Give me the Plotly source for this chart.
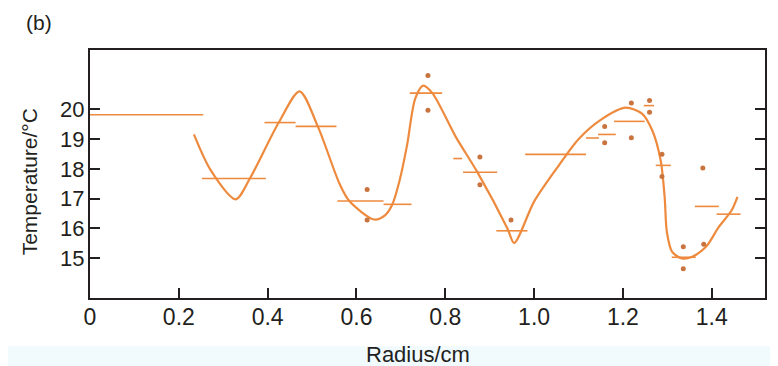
import plotly.graph_objects as go

# Step segments (mean temperature over radial intervals)
seg_start = [0.0, 0.252, 0.393, 0.463, 0.557, 0.661, 0.72, 0.818, 0.84, 0.915, 0.98,
             1.117, 1.144, 1.18, 1.247, 1.274, 1.31, 1.362, 1.411]
seg_end = [0.255, 0.396, 0.463, 0.555, 0.661, 0.724, 0.793, 0.838, 0.917, 0.985, 1.117,
           1.146, 1.184, 1.249, 1.27, 1.308, 1.364, 1.416, 1.465]
seg_temp = [19.82, 17.68, 19.56, 19.43, 16.92, 16.81, 20.55, 18.35, 17.89, 15.92, 18.49,
            19.04, 19.16, 19.6, 20.13, 18.12, 15.03, 16.74, 16.48]

# Individual measurements
dot_r = [0.624, 0.624, 0.761, 0.761, 0.878, 0.878, 0.948, 1.159, 1.159, 1.219, 1.219,
         1.26, 1.26, 1.288, 1.288, 1.336, 1.336, 1.380, 1.382]
dot_temp = [17.31, 16.28, 21.14, 19.97, 18.40, 17.47, 16.28, 19.43, 18.88, 20.22, 19.05,
            20.30, 19.91, 18.49, 17.75, 15.38, 14.64, 18.03, 15.47]

# Smooth fitted curve
curve_r = [0.234, 0.272, 0.328, 0.36, 0.425, 0.472, 0.513, 0.562, 0.584, 0.64,
           0.665, 0.681, 0.697, 0.714, 0.732, 0.75, 0.771, 0.824, 0.872, 0.94, 0.955,
           1.0, 1.05, 1.1, 1.15, 1.206, 1.243, 1.266, 1.285, 1.294, 1.299, 1.311, 1.333,
           1.355, 1.387, 1.416, 1.445, 1.458]
curve_temp = [19.16, 17.95, 16.98, 17.68, 19.56, 20.61, 19.43, 17.5, 16.92, 16.30,
              16.45, 16.81, 17.6, 18.8, 20.35, 20.8, 20.55, 19.07, 17.9, 16.0, 15.51,
              16.9, 18.0, 19.0, 19.65, 20.06, 19.86, 19.30, 18.29, 17.06, 15.88, 15.21,
              14.99, 15.04, 15.38, 16.05, 16.61, 17.06]

x_ticks = [0, 0.2, 0.4, 0.6, 0.8, 1.0, 1.2, 1.4]
x_labels = ["0", "0.2", "0.4", "0.6", "0.8", "1.0", "1.2", "1.4"]
y_ticks = [15, 16, 17, 18, 19, 20]

ORANGE = "#EE8A3E"
DOT = "#C9743E"
INK = "#231F20"
FONT = "Liberation Sans, Arial, sans-serif"

seg_x, seg_y = [], []
for a, b, t in zip(seg_start, seg_end, seg_temp):
    seg_x += [a, b, None]
    seg_y += [t, t, None]

fig = go.Figure()
fig.add_trace(go.Scatter(x=seg_x, y=seg_y, mode="lines",
                         line=dict(color=ORANGE, width=1.6), hoverinfo="skip"))
fig.add_trace(go.Scatter(x=curve_r, y=curve_temp, mode="lines",
                         line=dict(color=ORANGE, width=2.2, shape="spline", smoothing=0.8)))
fig.add_trace(go.Scatter(x=dot_r, y=dot_temp, mode="markers",
                         marker=dict(color=DOT, size=5)))

# page body has an 8px margin, so the figure is slightly smaller than the window
fig.update_layout(
    width=770,
    height=358,
    margin=dict(l=82, r=11, t=42, b=68),
    plot_bgcolor="white",
    paper_bgcolor="white",
    showlegend=False,
    font=dict(family=FONT, color=INK, size=21),
    xaxis=dict(
        range=[0, 1.52], tickvals=x_ticks, ticktext=x_labels,
        ticks="inside", ticklen=10, tickwidth=1.5, tickcolor=INK,
        showline=True, linecolor=INK, linewidth=2, mirror=True,
        showgrid=False, zeroline=False, tickfont=dict(size=23),
        ticklabelstandoff=-3,
    ),
    yaxis=dict(
        range=[13.66, 22], tickvals=y_ticks,
        ticks="inside", ticklen=10, tickwidth=1.5, tickcolor=INK,
        showline=True, linecolor=INK, linewidth=2, mirror="ticks",
        showgrid=False, zeroline=False, tickfont=dict(size=22),
        ticklabelstandoff=-1,
    ),
)

# pale band along the bottom edge
fig.add_shape(type="rect", xref="paper", yref="paper", x0=-0.2, x1=1.1,
              y0=-0.195, y1=-0.3, fillcolor="#F1FAFD", line=dict(width=0), layer="below")

fig.add_annotation(text="Temperature/°C", xref="paper", yref="paper", x=-0.089, y=0.47,
                   xanchor="center", yanchor="middle",
                   textangle=-90, showarrow=False, font=dict(size=21))
fig.add_annotation(text="Radius/cm", xref="paper", yref="paper", x=0.486, y=-0.228,
                   xanchor="center", yanchor="middle", showarrow=False, font=dict(size=22))
fig.add_annotation(text="(b)", xref="paper", yref="paper", x=-0.075, y=1.109,
                   xanchor="center", yanchor="middle", showarrow=False, font=dict(size=21))

fig.write_html("out.html")
